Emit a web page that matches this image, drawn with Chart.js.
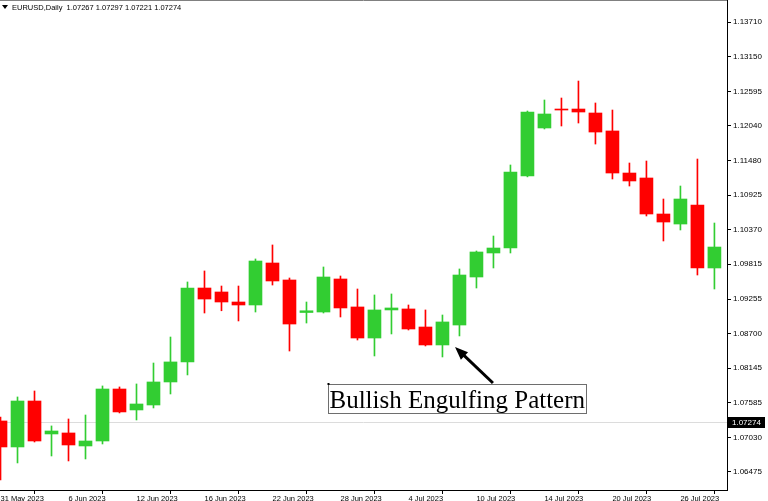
<!DOCTYPE html>
<html>
<head>
<meta charset="utf-8">
<script src="https://cdn.jsdelivr.net/npm/chart.js@4.4.0/dist/chart.umd.min.js"></script>
<style>
  html, body { margin: 0; padding: 0; background: #fff; }
  canvas { display: block; }
</style>
</head>
<body>
<canvas id="chart" width="768" height="501"></canvas>
<script>
// daily bars, trading days only
const dates = [
  '31 May 2023', '1 Jun 2023', '2 Jun 2023', '5 Jun 2023', '6 Jun 2023', '7 Jun 2023',
  '8 Jun 2023', '9 Jun 2023', '12 Jun 2023', '13 Jun 2023', '14 Jun 2023', '15 Jun 2023',
  '16 Jun 2023', '19 Jun 2023', '20 Jun 2023', '21 Jun 2023', '22 Jun 2023', '23 Jun 2023',
  '26 Jun 2023', '27 Jun 2023', '28 Jun 2023', '29 Jun 2023', '30 Jun 2023', '3 Jul 2023',
  '4 Jul 2023', '5 Jul 2023', '6 Jul 2023', '7 Jul 2023', '10 Jul 2023', '11 Jul 2023',
  '12 Jul 2023', '13 Jul 2023', '14 Jul 2023', '17 Jul 2023', '18 Jul 2023', '19 Jul 2023',
  '20 Jul 2023', '21 Jul 2023', '24 Jul 2023', '25 Jul 2023', '26 Jul 2023', '27 Jul 2023',
  '28 Jul 2023'
];
const opens = [
  1.07295, 1.06877, 1.07616, 1.07086, 1.07102, 1.06893, 1.06973, 1.07809, 1.07472, 1.07552,
  1.07922, 1.08244, 1.09433, 1.09369, 1.09208, 1.09160, 1.09835, 1.09562, 1.09039, 1.09047,
  1.09578, 1.09128, 1.08629, 1.09080, 1.09096, 1.08806, 1.08517, 1.08838, 1.09610, 1.09996,
  1.10076, 1.11234, 1.12006, 1.12311, 1.12311, 1.12247, 1.11958, 1.11282, 1.11202, 1.10623,
  1.10462, 1.10768, 1.09755
];
const highs = [
  1.07359, 1.07681, 1.07777, 1.07215, 1.07327, 1.07391, 1.07858, 1.07842, 1.07890, 1.08227,
  1.08645, 1.09530, 1.09707, 1.09465, 1.09465, 1.09900, 1.10125, 1.09594, 1.09208, 1.09771,
  1.09626, 1.09417, 1.09321, 1.09337, 1.09160, 1.09080, 1.08999, 1.09739, 1.10028, 1.10269,
  1.11411, 1.12279, 1.12456, 1.12488, 1.12761, 1.12408, 1.12295, 1.11443, 1.11475, 1.10864,
  1.11073, 1.11507, 1.10478
];
const lows = [
  1.06346, 1.06620, 1.06957, 1.06732, 1.06652, 1.06684, 1.06925, 1.07424, 1.07311, 1.07504,
  1.07729, 1.08035, 1.09031, 1.09067, 1.08903, 1.09047, 1.09481, 1.08420, 1.08870, 1.09031,
  1.08967, 1.08597, 1.08340, 1.08694, 1.08758, 1.08501, 1.08324, 1.08662, 1.09433, 1.09755,
  1.09996, 1.11220, 1.11990, 1.12038, 1.12086, 1.11748, 1.11186, 1.11073, 1.10591, 1.10189,
  1.10366, 1.09642, 1.09417
];
const closes = [
  1.06877, 1.07616, 1.06973, 1.07134, 1.06909, 1.06973, 1.07809, 1.07440, 1.07568, 1.07922,
  1.08244, 1.09433, 1.09256, 1.09208, 1.09160, 1.09867, 1.09546, 1.08854, 1.09067, 1.09610,
  1.09112, 1.08629, 1.09080, 1.09112, 1.08774, 1.08517, 1.08887, 1.09642, 1.10012, 1.10076,
  1.11298, 1.12263, 1.12231, 1.12295, 1.12263, 1.11941, 1.11282, 1.11154, 1.10623, 1.10494,
  1.10864, 1.09755, 1.10092
];
const yTicks = [
  1.13710, 1.13150, 1.12595, 1.12040, 1.11480, 1.10925, 1.10370, 1.09815,
  1.09255, 1.08700, 1.08145, 1.07585, 1.07030, 1.06475
];
const lastPrice = 1.07274;
const header = 'EURUSD,Daily  1.07267 1.07297 1.07221 1.07274';
const noteText = 'Bullish Engulfing Pattern';

const UP = '#32cd32';
const DOWN = '#ff0000';
const fontFamily = '"Liberation Sans", Arial, sans-serif';

const candleColor = i => closes[i] >= opens[i] ? UP : DOWN;

const wicks = dates.map((d, i) => ({ x: i, y: [lows[i], highs[i]] }));
const bodies = dates.map((d, i) => ({ x: i, y: [opens[i], closes[i]] }));

// extra drawing: frame, price line, header, label box and arrow
const overlay = {
  id: 'overlay',
  beforeDatasetsDraw(chart) {
    const { ctx, chartArea, scales: { y } } = chart;
    const py = Math.round(y.getPixelForValue(lastPrice)) + 0.5;
    ctx.save();
    ctx.strokeStyle = '#dcdcdc';
    ctx.lineWidth = 1;
    ctx.beginPath();
    ctx.moveTo(chartArea.left, py);
    ctx.lineTo(chartArea.right, py);
    ctx.stroke();
    ctx.restore();
  },
  afterDraw(chart) {
    const { ctx, chartArea, scales: { x, y } } = chart;
    ctx.save();

    // top frame
    ctx.strokeStyle = '#808080';
    ctx.lineWidth = 1;
    ctx.beginPath();
    ctx.moveTo(0, 0.5);
    ctx.lineTo(chartArea.right, 0.5);
    ctx.stroke();

    // header
    ctx.fillStyle = '#000';
    ctx.beginPath();
    ctx.moveTo(2, 5);
    ctx.lineTo(8, 5);
    ctx.lineTo(5, 9);
    ctx.closePath();
    ctx.fill();
    ctx.font = '7.5px ' + fontFamily;
    ctx.textBaseline = 'middle';
    ctx.textAlign = 'left';
    ctx.fillText(header, 12, 7.5);

    // last price tag
    const py = y.getPixelForValue(lastPrice);
    ctx.font = '8px ' + fontFamily;
    ctx.fillStyle = '#000';
    ctx.fillRect(chartArea.right + 1, Math.round(py) - 5, 37, 11);
    ctx.fillStyle = '#fff';
    ctx.fillText(lastPrice.toFixed(5), chartArea.right + 5, Math.round(py) + 0.5);

    // text label with box
    const bx = Math.round(x.getPixelForValue(19.26)) + 0.5;
    const by = Math.round(y.getPixelForValue(1.07890)) + 0.5;
    ctx.font = '25px "Liberation Serif", "Times New Roman", serif';
    const tw = ctx.measureText(noteText).width;
    ctx.fillStyle = '#000';
    ctx.textBaseline = 'alphabetic';
    ctx.fillText(noteText, bx + 1, by + 23);
    ctx.strokeStyle = '#6e6e6e';
    ctx.strokeRect(bx, by, Math.round(tw) + 2, 29);
    ctx.fillStyle = '#000';
    ctx.fillRect(bx - 1, by - 1.5, 2, 2);

    // arrow
    const ax0 = x.getPixelForValue(28.97), ay0 = y.getPixelForValue(1.07906);
    const ax1 = x.getPixelForValue(26.74), ay1 = y.getPixelForValue(1.08485);
    const ang = Math.atan2(ay1 - ay0, ax1 - ax0);
    const head = 14;
    ctx.strokeStyle = '#000';
    ctx.lineWidth = 3;
    ctx.beginPath();
    ctx.moveTo(ax0, ay0);
    ctx.lineTo(ax1 - Math.cos(ang) * head * 0.8, ay1 - Math.sin(ang) * head * 0.8);
    ctx.stroke();
    ctx.beginPath();
    ctx.moveTo(ax1, ay1);
    ctx.lineTo(ax1 - head * Math.cos(ang - 0.38), ay1 - head * Math.sin(ang - 0.38));
    ctx.lineTo(ax1 - head * Math.cos(ang + 0.38), ay1 - head * Math.sin(ang + 0.38));
    ctx.closePath();
    ctx.fill();

    ctx.restore();
  }
};

new Chart(document.getElementById('chart'), {
  type: 'bar',
  data: {
    datasets: [
      {
        data: bodies,
        grouped: false,
        order: 0,
        barThickness: 13,
        minBarLength: 1,
        borderWidth: 0,
        backgroundColor: ctx => candleColor(ctx.dataIndex),
        clip: 0
      },
      {
        data: wicks,
        grouped: false,
        order: 1,
        barThickness: 1,
        borderWidth: 0,
        backgroundColor: ctx => candleColor(ctx.dataIndex),
        clip: 0
      }
    ]
  },
  options: {
    responsive: false,
    animation: false,
    layout: { padding: 0 },
    plugins: {
      legend: { display: false },
      tooltip: { enabled: false }
    },
    scales: {
      x: {
        type: 'linear',
        min: -0.03,
        max: 42.74,
        offset: false,
        afterBuildTicks: scale => {
          scale.ticks = [];
          for (let i = 0; i < dates.length; i += 4) scale.ticks.push({ value: i });
        },
        afterFit: scale => {
          scale.height = 11;
          scale.paddingLeft = 0;
          scale.paddingRight = 0;
        },
        ticks: {
          callback: v => dates[v],
          align: 'start',
          autoSkip: false,
          maxRotation: 0,
          padding: 0,
          color: '#000',
          font: { family: fontFamily, size: 7.5 }
        },
        grid: { drawOnChartArea: false, tickLength: 4, color: '#000' },
        border: { color: '#000' }
      },
      y: {
        position: 'right',
        min: 1.06185,
        max: 1.14064,
        afterBuildTicks: scale => {
          scale.ticks = yTicks.map(v => ({ value: v }));
        },
        afterFit: scale => {
          scale.width = 41;
          scale.paddingTop = 0;
          scale.paddingBottom = 0;
        },
        ticks: {
          callback: v => v.toFixed(5),
          padding: 2,
          color: '#000',
          font: { family: fontFamily, size: 8 }
        },
        grid: { drawOnChartArea: false, tickLength: 4, color: '#000' },
        border: { color: '#000' }
      }
    }
  },
  plugins: [overlay]
});
</script>
</body>
</html>
